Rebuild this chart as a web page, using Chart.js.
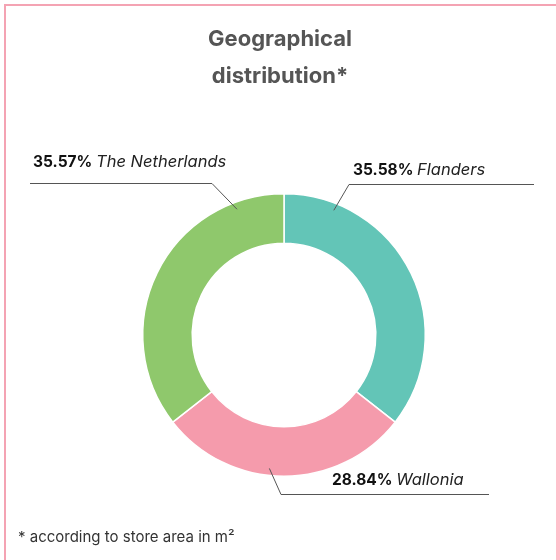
<!DOCTYPE html>
<html>
<head>
<meta charset="utf-8">
<script src="https://cdn.jsdelivr.net/npm/chart.js@4"></script>
<style>
  html, body { margin: 0; padding: 0; background: #fff; }
  #wrap { position: relative; width: 556px; height: 560px; overflow: hidden; }
  #frame { position: absolute; left: 4px; top: 4px; width: 600px; height: 600px;
           border-left: 2px solid #f4a3b3; border-top: 2px solid #f4a3b3; }
  canvas { position: absolute; left: 0; top: 0; }
</style>
</head>
<body>
<div id="wrap">
  <div id="frame"></div>
  <canvas id="chart" width="556" height="560"></canvas>
</div>
<script>
const regions = ['Flanders', 'Wallonia', 'The Netherlands'];
const shares = [35.58, 28.84, 35.57];
const colors = ['#63c5b7', '#f59bac', '#8fc86c'];
const titleLines = ['Geographical', 'distribution*'];
const footnote = '* according to store area in m\u00b2';

// where each leader line starts inside its slice (0..1 of the slice), plus elbow/text layout
const labelLayout = [
  { at: 0.17, elbow: [65, -151], lineEnd: 534, textX: 353, textY: 175 },
  { at: 0.56, elbow: [-3, 159], lineEnd: 489, textX: 332, textY: 485 },
  { at: 0.84, elbow: [-72, -152], lineEnd: 30, textX: 33, textY: 167 }
];

const FONT = 'Inter, "Open Sans", sans-serif';

const textPlugin = {
  id: 'textPlugin',
  afterDraw(chart) {
    const ctx = chart.ctx;
    ctx.save();

    // title
    ctx.fillStyle = '#555';
    ctx.font = 'bold 22px ' + FONT;
    ctx.textAlign = 'center';
    ctx.textBaseline = 'alphabetic';
    titleLines.forEach((t, i) => ctx.fillText(t, 280, 46 + i * 37));

    // labels with leader lines
    const meta = chart.getDatasetMeta(0);
    meta.data.forEach((arc, i) => {
      const lay = labelLayout[i];
      const p = arc.getProps(['x', 'y', 'startAngle', 'endAngle', 'outerRadius'], true);
      const a = p.startAngle + (p.endAngle - p.startAngle) * lay.at;
      const r = p.outerRadius - 7;
      const sx = p.x + Math.cos(a) * r;
      const sy = p.y + Math.sin(a) * r;
      const ex = p.x + lay.elbow[0];
      const ey = p.y + lay.elbow[1];
      ctx.strokeStyle = '#555';
      ctx.lineWidth = 1;
      ctx.beginPath();
      ctx.moveTo(sx, sy);
      ctx.lineTo(ex, Math.round(ey) + 0.5);
      ctx.lineTo(lay.lineEnd, Math.round(ey) + 0.5);
      ctx.stroke();

      ctx.textAlign = 'left';
      ctx.fillStyle = '#111';
      const pct = shares[i].toFixed(2) + '% ';
      ctx.font = 'bold 15.5px ' + FONT;
      ctx.fillText(pct, lay.textX, lay.textY);
      const w = ctx.measureText(pct).width;
      ctx.font = 'italic 16.5px ' + FONT;
      ctx.fillStyle = '#222';
      ctx.fillText(regions[i], lay.textX + w, lay.textY);
    });

    // footnote
    ctx.fillStyle = '#333';
    ctx.font = '15px ' + FONT;
    ctx.textAlign = 'left';
    ctx.fillText(footnote, 18, 542);
    ctx.restore();
  }
};

new Chart(document.getElementById('chart'), {
  type: 'doughnut',
  data: {
    labels: regions,
    datasets: [{
      data: shares,
      backgroundColor: colors,
      borderColor: '#fff',
      borderWidth: 1.5
    }]
  },
  options: {
    responsive: false,
    animation: false,
    cutout: '65%',
    layout: { padding: { top: 193, bottom: 83, left: 142, right: 130 } },
    plugins: {
      legend: { display: false },
      tooltip: { enabled: false },
      title: { display: false }
    }
  },
  plugins: [textPlugin]
});
</script>
</body>
</html>
